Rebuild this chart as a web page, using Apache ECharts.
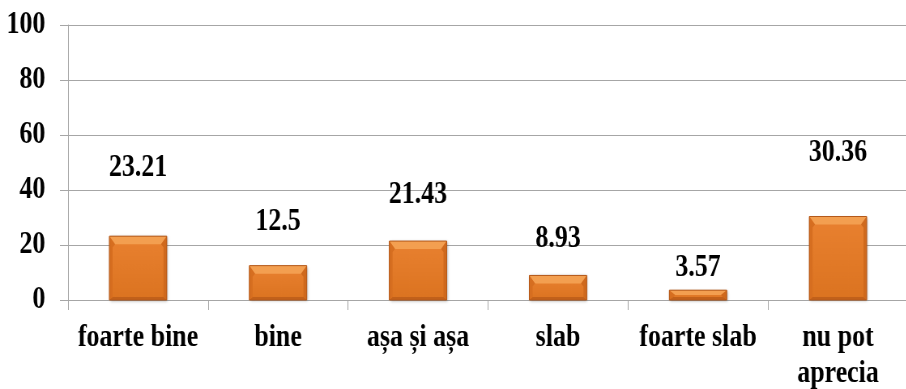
<!DOCTYPE html>
<html>
<head>
<meta charset="utf-8">
<script src="https://cdn.jsdelivr.net/npm/echarts@6/dist/echarts.min.js"></script>
<style>
  html, body { margin: 0; padding: 0; background: #fff; overflow: hidden; }
  #wrap { width: 906px; height: 389px; overflow: hidden; }
  /* the chart is laid out wider, then narrowed so the bold serif type reads condensed */
  #chart { height: 389px; transform-origin: 0 0; }
</style>
</head>
<body>
<div id="wrap"><div id="chart"></div></div>
<script>
const categories = ['foarte bine', 'bine', 'așa și așa', 'slab', 'foarte slab', 'nu pot\naprecia'];
const values = [23.21, 12.5, 21.43, 8.93, 3.57, 30.36];
const yMin = 0, yMax = 100, yStep = 20;

// distance (px) between each bar's top and the centre of its value label
const labelGap = [68, 44, 46, 37, 22, 64];

const squeeze = 0.81;
const W = Math.round(906 / squeeze);
const chartEl = document.getElementById('chart');
chartEl.style.width = W + 'px';
chartEl.style.transform = 'scaleX(' + squeeze + ')';

const serif = '"Liberation Serif", "Times New Roman", Tinos, serif';
const gridColor = '#a6a6a6';

function bevelBar(params, api) {
  const i = api.value(0);
  const v = api.value(1);
  const top = api.coord([i, v]);
  const base = api.coord([i, 0]);
  const w = api.size([1, 0])[0] * 0.41;
  const x0 = top[0] - w / 2, x1 = top[0] + w / 2;
  const y0 = top[1], y1 = base[1];
  const h = y1 - y0;
  const bt = Math.min(8, h / 2);
  const bb = Math.min(3, h / 3);
  const bs = Math.min(7, w / 2);
  const side = Math.min(4, w / 4);
  return {
    type: 'group',
    children: [
      { type: 'rect', shape: { x: x0, y: y0, width: w, height: h },
        style: { fill: new echarts.graphic.LinearGradient(0, 0, 0, 1, [
          { offset: 0, color: '#e98130' }, { offset: 1, color: '#db7320' }]),
          shadowColor: 'rgba(0,0,0,0.35)', shadowBlur: 3, shadowOffsetX: 1, shadowOffsetY: 1 } },
      { type: 'polygon', shape: { points: [[x0, y0], [x1, y0], [x1 - bs, y0 + bt], [x0 + bs, y0 + bt]] },
        style: { fill: '#f39f50' } },
      { type: 'polygon', shape: { points: [[x0, y1], [x1, y1], [x1 - side, y1 - bb], [x0 + side, y1 - bb]] },
        style: { fill: '#c1601a' } },
      { type: 'polygon', shape: { points: [[x0, y0], [x0 + bs, y0 + bt], [x0 + side, y0 + bt + 3], [x0 + side, y1 - bb], [x0, y1]] },
        style: { fill: '#d66e20' } },
      { type: 'polygon', shape: { points: [[x1, y0], [x1 - bs, y0 + bt], [x1 - side, y0 + bt + 3], [x1 - side, y1 - bb], [x1, y1]] },
        style: { fill: '#cf691d' } },
      { type: 'rect', shape: { x: x0, y: y0, width: w, height: h },
        style: { fill: 'none', stroke: '#b4591a', lineWidth: 1 } },
      { type: 'text', x: top[0], y: y0 - labelGap[i],
        style: { text: String(v), fill: '#000', font: 'bold 32px ' + serif,
                 align: 'center', verticalAlign: 'middle' } }
    ]
  };
}

const chart = echarts.init(chartEl, null, { renderer: 'canvas' });
chart.setOption({
  backgroundColor: '#fff',
  animation: false,
  textStyle: { fontFamily: serif },
  grid: { left: Math.round(68 / squeeze), width: Math.round(840 / squeeze), top: 25, bottom: 89,
          containLabel: false, outerBoundsMode: 'none' },
  xAxis: {
    type: 'category',
    data: categories,
    boundaryGap: true,
    axisLine: { show: true, lineStyle: { color: gridColor, width: 1 } },
    axisTick: { show: true, alignWithLabel: false, length: 10, lineStyle: { color: gridColor } },
    axisLabel: { interval: 0, margin: 20, color: '#000', fontSize: 32, fontWeight: 'bold',
                 fontFamily: serif, lineHeight: 36 }
  },
  yAxis: {
    type: 'value',
    min: yMin, max: yMax, interval: yStep,
    axisLine: { show: true, lineStyle: { color: gridColor, width: 1 } },
    axisTick: { show: true, length: 10, lineStyle: { color: gridColor } },
    splitLine: { show: true, lineStyle: { color: gridColor, width: 1 } },
    axisLabel: { margin: 28, color: '#000', fontSize: 32, fontWeight: 'bold', fontFamily: serif }
  },
  series: [{
    type: 'custom',
    renderItem: bevelBar,
    data: values.map((v, i) => [i, v]),
    encode: { x: 0, y: 1 },
    clip: false
  }]
});
</script>
</body>
</html>
